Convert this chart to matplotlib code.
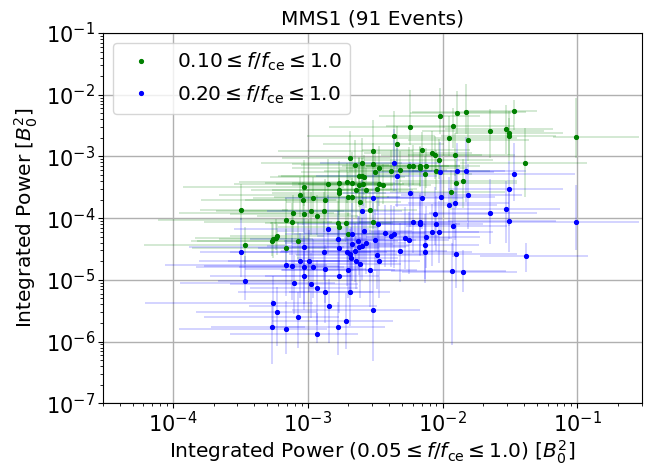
import numpy as np
import matplotlib
matplotlib.use("Agg")
import matplotlib.pyplot as plt
from matplotlib.lines import Line2D

# values, stored as log10 (x = power 0.05-1.0, y = power in band)
green_logx = [-3.50, -3.47, -3.27, -3.26, -3.24, -3.23, -2.69, -2.65, -2.62, -2.67,
              -2.71, -2.77, -2.85, -2.64, -2.77, -2.77, -3.03, -3.06, -2.96, -3.04,
              -2.70, -2.67, -2.87, -2.62, -3.11, -3.03, -2.98, -2.93, -2.88, -3.16,
              -3.12, -2.78, -2.77, -2.72, -2.70, -3.07, -3.16, -2.02, -1.89, -2.24,
              -1.92, -2.36, -1.95, -2.34, -2.52, -2.15, -2.08, -2.06, -1.91, -2.03,
              -2.60, -2.52, -2.25, -2.22, -2.17, -2.17, -2.12, -2.47, -2.50, -2.38,
              -2.32, -2.05, -2.13, -2.58, -2.60, -1.90, -2.59, -2.44, -2.47, -2.57,
              -2.49, -1.94, -2.54, -2.61, -2.52, -1.83, -1.47, -1.65, -1.53, -1.51,
              -1.51, -1.81, -1.01, -1.39, -1.85]
green_logy = [-3.86, -4.44, -4.37, -4.34, -4.32, -4.29, -3.03, -3.14, -3.31, -3.43,
              -3.41, -3.43, -3.44, -3.55, -3.54, -3.60, -3.50, -3.63, -3.68, -3.71,
              -3.66, -3.65, -3.71, -3.47, -3.92, -3.94, -3.88, -3.97, -3.88, -4.03,
              -4.06, -4.08, -4.14, -4.08, -4.26, -4.37, -4.48, -2.34, -2.29, -2.52,
              -2.51, -2.67, -2.70, -2.80, -2.91, -2.90, -2.94, -2.97, -2.97, -3.06,
              -3.10, -3.13, -3.15, -3.16, -3.15, -3.18, -3.16, -3.18, -3.25, -3.24,
              -3.22, -3.24, -3.29, -3.33, -3.32, -3.43, -3.45, -3.47, -3.45, -3.54,
              -3.53, -3.57, -3.86, -3.74, -4.06, -2.28, -2.27, -2.58, -2.56, -2.62,
              -2.67, -2.73, -2.69, -3.10, -3.39]
# error bar extents in decades (below / above the point)
green_xlo = [.30, .75, .55, .40, .60, .35, .50, .40, .60, .45, .80, .55, .70, .40, .65,
             .50, .90, .60, .45, .75, .55, .40, .60, .50, .85, .55, .70, .45, .60, .95,
             .65, .50, .45, .60, .40, .80, .70, .45, .35, .60, .50, .65, .40, .55, .70,
             .45, .50, .40, .35, .55, .75, .60, .50, .45, .40, .55, .45, .65, .55, .50,
             .45, .40, .50, .70, .60, .40, .65, .55, .60, .70, .50, .45, .65, .55, .60,
             .40, .37, .50, .45, .40, .50, .45, .17, .48, .50]
green_xhi = [.35, .30, .25, .30, .25, .35, .30, .25, .30, .35, .25, .30, .40, .30, .25,
             .35, .30, .30, .40, .25, .30, .35, .30, .25, .30, .35, .25, .30, .35, .30,
             .30, .40, .30, .35, .30, .35, .30, .30, .40, .30, .45, .30, .50, .35, .30,
             .35, .30, .35, .45, .40, .30, .35, .30, .35, .30, .35, .40, .30, .35, .30,
             .35, .40, .35, .30, .35, .45, .30, .35, .30, .35, .30, .40, .35, .30, .35,
             .45, .17, .40, .35, .40, .35, .45, .47, .46, .40]
green_ylo = [.17, .30, .25, .30, .20, .30, .35, .30, .40, .30, .35, .25, .30, .45, .30,
             .35, .30, .35, .30, .40, .30, .35, .30, .35, .35, .30, .40, .30, .35, .30,
             .35, .30, .35, .30, .45, .30, .35, .30, .35, .30, .35, .40, .30, .35, .30,
             .35, .30, .40, .35, .30, .35, .30, .35, .30, .35, .30, .35, .30, .35, .30,
             .35, .30, .35, .30, .35, .40, .35, .30, .35, .30, .35, .30, .40, .35, .30,
             .35, .30, .45, .40, .35, .40, .35, .33, .56, .45]
green_yhi = [.42, .30, .30, .25, .30, .20, .45, .40, .30, .50, .30, .35, .40, .35, .30,
             .25, .45, .30, .35, .30, .40, .30, .35, .45, .30, .35, .30, .35, .30, .35,
             .30, .35, .30, .40, .35, .30, .30, .45, .35, .60, .30, .40, .35, .30, .50,
             .30, .35, .30, .35, .35, .40, .35, .30, .35, .30, .35, .30, .35, .30, .35,
             .30, .35, .30, .35, .30, .35, .30, .35, .30, .35, .30, .35, .30, .35, .30,
             .45, .18, .35, .40, .35, .30, .40, .63, .56, .35]

blue_logx = [-3.50, -3.47, -3.26, -3.23, -3.27, -2.85, -2.67, -2.63, -2.78, -2.67,
             -2.62, -3.03, -2.77, -2.88, -2.71, -2.69, -2.65, -2.68, -2.64, -3.06,
             -2.99, -2.61, -3.16, -3.12, -3.03, -2.96, -2.87, -2.70, -2.77, -3.03,
             -3.10, -2.98, -2.93, -2.87, -2.69, -2.84, -3.07, -2.72, -3.16, -2.78,
             -2.93, -2.36, -2.34, -2.24, -2.15, -2.01, -1.89, -2.02, -1.95, -1.91,
             -2.52, -2.60, -2.06, -2.48, -2.22, -2.17, -2.17, -2.05, -1.92, -2.08,
             -2.03, -2.43, -2.38, -2.36, -2.28, -2.25, -2.12, -2.58, -2.57, -2.60,
             -2.50, -2.49, -2.47, -2.32, -2.13, -2.13, -1.90, -2.54, -1.93, -2.52,
             -1.83, -1.47, -1.51, -1.81, -1.65, -1.53, -1.51, -1.01, -1.38, -1.85]
blue_logy = [-4.55, -5.02, -5.38, -5.52, -5.77, -4.18, -4.25, -4.37, -4.34, -4.42,
             -4.47, -4.47, -4.48, -4.55, -4.55, -4.58, -4.53, -4.65, -4.69, -4.69,
             -4.69, -4.75, -4.76, -4.77, -4.79, -4.79, -4.83, -4.84, -4.93, -4.93,
             -5.05, -5.07, -5.13, -5.20, -5.20, -5.43, -5.60, -5.67, -5.80, -5.76,
             -5.88, -3.11, -3.32, -3.59, -3.68, -3.65, -3.23, -3.26, -3.78, -3.75,
             -3.67, -3.88, -3.94, -4.10, -4.06, -4.07, -4.10, -4.09, -4.13, -4.22,
             -4.22, -4.24, -4.29, -4.26, -4.32, -4.35, -4.30, -4.20, -4.41, -4.45,
             -4.35, -4.60, -4.69, -4.53, -4.44, -4.55, -4.58, -4.84, -4.85, -5.48,
             -3.24, -3.28, -3.52, -3.63, -3.92, -3.85, -4.05, -4.07, -4.62, -4.87]
blue_xlo = [.30, .20, .95, .60, .45, .70, .50, .55, .65, .45, .50, .85, .60, .70, .50,
            .45, .55, .40, .50, .75, .60, .55, .90, .65, .80, .55, .60, .50, .55, .70,
            .85, .60, .50, .65, .45, .60, .70, .55, .80, .50, .65, .55, .60, .50, .45,
            .40, .45, .50, .40, .35, .65, .70, .45, .60, .50, .45, .55, .40, .35, .45,
            .40, .60, .55, .50, .45, .55, .45, .65, .60, .70, .55, .60, .50, .55, .45,
            .50, .40, .65, .45, .60, .40, .35, .45, .50, .45, .40, .45, .80, .34, .45]
blue_xhi = [.35, .35, .30, .30, .25, .30, .35, .30, .35, .30, .35, .30, .30, .35, .30,
            .35, .30, .35, .30, .30, .35, .30, .30, .35, .30, .35, .30, .35, .30, .35,
            .30, .35, .30, .35, .30, .35, .30, .35, .30, .35, .30, .35, .30, .35, .30,
            .40, .35, .40, .35, .40, .35, .30, .40, .35, .30, .35, .30, .35, .40, .35,
            .40, .30, .35, .30, .35, .30, .40, .35, .30, .35, .30, .35, .30, .35, .40,
            .35, .45, .35, .40, .35, .45, .45, .40, .40, .35, .40, .35, .47, .46, .40]
blue_ylo = [.40, .30, .35, .55, .60, .40, .60, .45, .50, .60, .45, .55, .50, .45, .55,
            .60, .50, .55, .45, .60, .50, .55, .50, .55, .60, .50, .55, .45, .60, .55,
            .50, .55, .60, .50, .55, .60, .50, .45, .40, .45, .14, .45, .50, .55, .50,
            .55, .50, .45, .55, .60, .50, .55, .50, .55, .50, .55, .50, .45, .50, .55,
            .50, .55, .50, .55, .50, .55, .50, .55, .50, .55, .50, .55, .60, .50, .55,
            .50, .55, .60, 1.2, .83, .50, .45, .60, .55, .50, .55, .50, .45, .25, .33]
blue_yhi = [.55, .40, .45, .40, .45, .55, .50, .40, .45, .40, .50, .45, .40, .50, .45,
            .40, .45, .50, .40, .45, .50, .45, .40, .45, .50, .45, .40, .50, .45, .40,
            .45, .50, .45, .40, .50, .45, .40, .45, .45, .40, .35, .55, .45, .50, .45,
            .50, .45, .50, .45, .50, .45, .50, .45, .45, .50, .45, .50, .45, .50, .45,
            .50, .45, .50, .45, .50, .45, .50, .45, .50, .45, .50, .45, .50, .45, .50,
            .45, .50, .45, .45, .60, .55, .50, .45, .50, .55, .45, .50, .60, .22, .36]

n_events = 91
labels = [r'$0.10 \leq f/f_{\rm ce} \leq 1.0$', r'$0.20 \leq f/f_{\rm ce} \leq 1.0$']


def to_err(logv, lo, hi):
  v = 10 ** np.array(logv)
  lo = np.array(lo)
  hi = np.array(hi)
  return v, [v - v * 10 ** -lo, v * 10 ** hi - v]


fig = plt.figure(figsize=(6.57, 4.66), dpi=100)
ax = fig.add_axes([0.1563, 0.1345, 0.8204, 0.7947])

gx, gxerr = to_err(green_logx, green_xlo, green_xhi)
gy, gyerr = to_err(green_logy, green_ylo, green_yhi)
bx, bxerr = to_err(blue_logx, blue_xlo, blue_xhi)
by, byerr = to_err(blue_logy, blue_ylo, blue_yhi)

ax.errorbar(gx, gy, xerr=gxerr, yerr=gyerr, fmt='.', color='green', ms=5.5,
            ecolor=(0, 0.5, 0, 0.2), elinewidth=1.2)
ax.errorbar(bx, by, xerr=bxerr, yerr=byerr, fmt='.', color='blue', ms=5.5,
            ecolor=(0, 0, 1, 0.2), elinewidth=1.2)

ax.set_xscale('log')
ax.set_yscale('log')
ax.set_xlim(3e-5, 0.3)
ax.set_ylim(1e-7, 1e-1)
ax.grid(True, which='major', color='#b0b0b0', linewidth=1)
ax.set_axisbelow(True)

ax.set_title('MMS1 (%d Events)' % n_events, fontsize=14.5)
ax.set_xlabel(r'Integrated Power ($0.05 \leq f/f_{\rm ce} \leq 1.0$) [$B_0^2$]',
              fontsize=14.5, labelpad=2)
ax.set_ylabel(r'Integrated Power [$B_0^2$]', fontsize=14.5)
ax.tick_params(labelsize=15, pad=2)

handles = [Line2D([], [], ls='none', marker='.', ms=5.5, color='green'),
           Line2D([], [], ls='none', marker='.', ms=5.5, color='blue')]
ax.legend(handles, labels, loc='upper left', fontsize=14.5)

fig.savefig('out.png', dpi=100)
